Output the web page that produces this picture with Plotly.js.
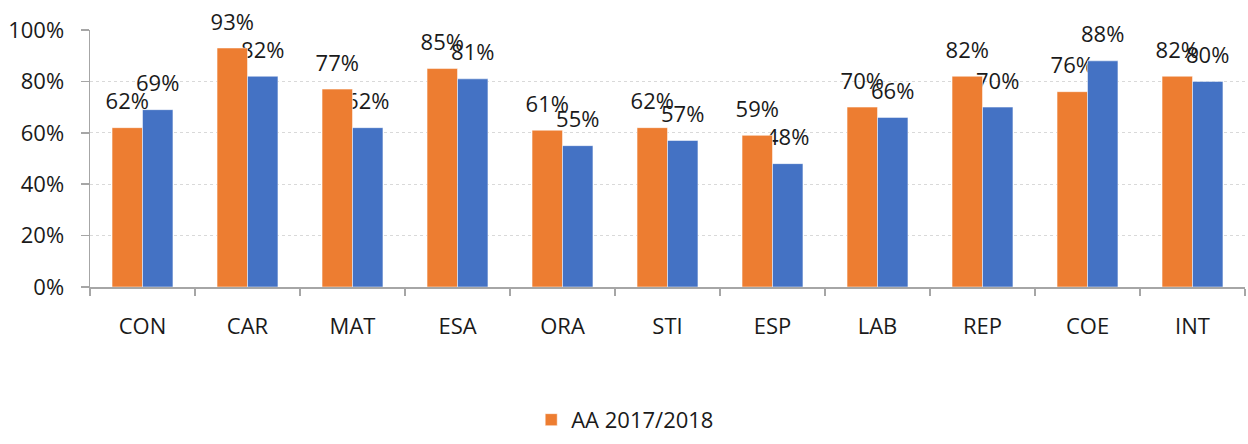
<!DOCTYPE html>
<html>
<head>
<meta charset="utf-8">
<script src="https://cdn.plot.ly/plotly-3.0.1.min.js"></script>
<style>html,body{margin:0;padding:0;background:#fff;}#chart{width:1248px;height:444px;}</style>
</head>
<body>
<div id="chart"></div>
<script>
const categories = ["CON","CAR","MAT","ESA","ORA","STI","ESP","LAB","REP","COE","INT"];
const seriesAName = "AA 2017/2018";
const seriesA = [62,93,77,85,61,62,59,70,82,76,82];
const seriesB = [69,82,62,81,55,57,48,66,70,88,80];
const yTicks = [0,20,40,60,80,100];
const yTickLabels = yTicks.map(v => v + "%");

const orange = "#ED7D31";
const blue = "#4472C4";
const font = "Open Sans, Liberation Sans, sans-serif";
const txtColor = "#1a1a1a";

function labelTrace(vals, group) {
  return {type:"scatter", mode:"markers+text", x:categories, y:vals, text:vals.map(v=>v+"%"),
    textposition:"top center", textfont:{family:font,size:22,color:txtColor},
    marker:{size:19, color:"rgba(0,0,0,0)", opacity:0},
    xaxis:"x", yaxis:"y", showlegend:false, hoverinfo:"skip", cliponaxis:false, offsetgroup:group};
}

const traces = [
  // labels (drawn below the bars, as in the reference)
  labelTrace(seriesA, "a"),
  labelTrace(seriesB, "b"),
  // bars
  {type:"bar", name:seriesAName, x:categories, y:seriesA, marker:{color:orange, line:{color:"#ffffff", width:0.5}},
   xaxis:"x2", yaxis:"y2", showlegend:true},
  {type:"bar", name:"", x:categories, y:seriesB, marker:{color:blue, line:{color:"#ffffff", width:0.5}},
   xaxis:"x2", yaxis:"y2", showlegend:false}
];

const layout = {
  width:1248, height:444,
  margin:{l:90, r:3, t:30, b:151},
  paper_bgcolor:"#ffffff", plot_bgcolor:"rgba(0,0,0,0)",
  font:{family:font, size:22, color:txtColor},
  barmode:"group", bargap:0.42, bargroupgap:0,
  scattermode:"group", scattergap:0.42,
  xaxis:{type:"category", categoryarray:categories, range:[-0.5,10.5], visible:false, fixedrange:true},
  yaxis:{range:[0,100], visible:false, fixedrange:true},
  xaxis2:{type:"category", categoryarray:categories, overlaying:"x", anchor:"y2", range:[-0.5,10.5],
    showline:true, linecolor:"#a6a6a6", linewidth:1.5, ticks:"outside", tickson:"boundaries",
    ticklen:7, tickcolor:"#a6a6a6", tickwidth:1.5, showgrid:false, ticklabelstandoff:19,
    tickfont:{family:font,size:22,color:txtColor}},
  yaxis2:{overlaying:"y", anchor:"x2", range:[0,100], tickvals:yTicks, ticktext:yTickLabels,
    showline:true, linecolor:"#a6a6a6", linewidth:1.5, ticks:"outside", ticklen:8,
    tickcolor:"#a6a6a6", tickwidth:1.5, showgrid:true, gridcolor:"#d9d9d9", griddash:"dot",
    gridwidth:1, zeroline:false, ticklabelstandoff:12, tickfont:{family:font,size:22,color:txtColor}},
  legend:{orientation:"h", x:0.382, xanchor:"left", y:-0.517, yanchor:"middle",
    font:{family:font,size:22,color:txtColor}, bgcolor:"rgba(0,0,0,0)"},
  showlegend:true
};

Plotly.newPlot("chart", traces, layout, {displayModeBar:false, staticPlot:true});
</script>
</body>
</html>
